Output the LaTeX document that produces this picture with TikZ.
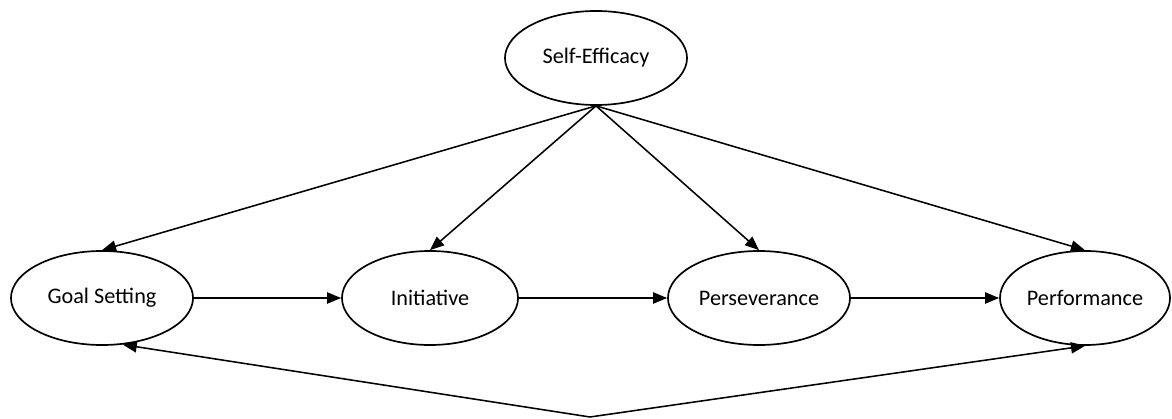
\documentclass[tikz,border=0pt]{standalone}
\usepackage{fontspec}
\setmainfont{Carlito}
\usetikzlibrary{shapes.geometric,arrows.meta}
\tikzset{
  construct/.style={draw,ellipse,line width=1.2pt,minimum width=4.55cm,minimum height=2.35cm,inner sep=1pt,font=\fontsize{15.8}{19}\selectfont},
  link/.style={draw,line width=1.1pt,-{Triangle[length=10pt,width=8pt]}},
  feedback/.style={draw,line width=1.1pt,{Triangle[length=10pt,width=8pt]}-{Triangle[length=10pt,width=8pt]}}
}

\begin{document}
\begin{tikzpicture}[x=0.025cm,y=-0.025cm]
  \useasboundingbox (0,0) rectangle (1172,419);
  \node[construct] (efficacy) at (596,58) {Self-Efficacy};
  \node[construct] (goal) at (102,298) {Goal Setting};
  \node[construct,minimum width=4.4cm] (initiative) at (430,298) {Initiative};
  \node[construct] (perseverance) at (759,298) {Perseverance};
  \node[construct,minimum width=4.25cm] (performance) at (1085,298) {Performance};
  \coordinate (dip) at (590,417);
  % paths from self-efficacy
  \draw[link] (efficacy.south) -- (goal.north);
  \draw[link] (efficacy.south) -- (initiative.north);
  \draw[link] (efficacy.south) -- (perseverance.north);
  \draw[link] (efficacy.south) -- (performance.north);
  % sequence
  \draw[link] (goal) -- (initiative);
  \draw[link] (initiative) -- (perseverance);
  \draw[link] (perseverance) -- (performance);
  % feedback loop
  \draw[feedback] (goal.-66) -- (dip) -- (performance.south);
\end{tikzpicture}
\end{document}
